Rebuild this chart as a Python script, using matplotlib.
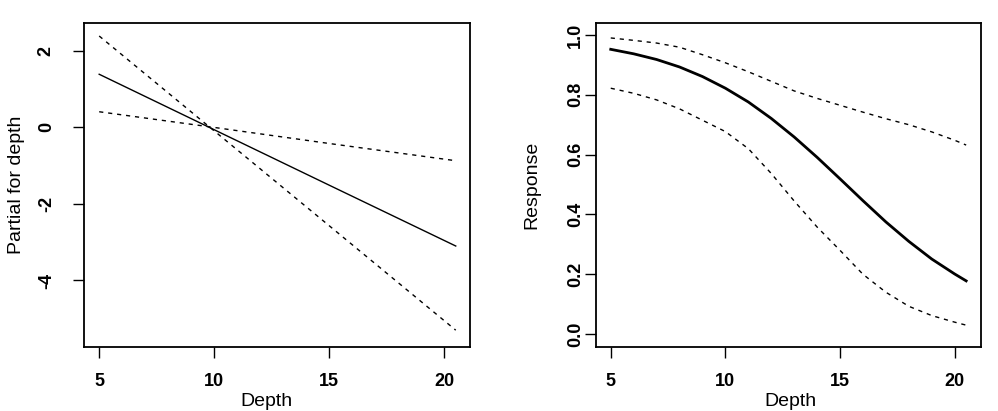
import matplotlib
matplotlib.use("Agg")
import matplotlib.pyplot as plt

plt.rcParams['font.family'] = ['Liberation Sans', 'DejaVu Sans']

# left panel: partial effect of depth (linear term) with +/- 2 se lines
depth_lin = [5, 10, 15, 20.5]
partial = [1.39, -0.06, -1.51, -3.10]
partial_steep = [2.39, -0.09, -2.57, -5.30]
partial_flat = [0.41, 0.00, -0.42, -0.87]

# right panel: fitted response on probability scale with band
depth = [5, 6, 7, 8, 9, 10, 11, 12, 13, 14, 15, 16, 17, 18, 19, 20, 20.5]
response = [0.952, 0.937, 0.918, 0.893, 0.861, 0.822, 0.776, 0.721, 0.659,
            0.591, 0.519, 0.446, 0.375, 0.310, 0.251, 0.201, 0.178]
resp_upper = [0.990, 0.982, 0.973, 0.959, 0.934, 0.907, 0.877, 0.845, 0.813,
              0.788, 0.765, 0.742, 0.720, 0.700, 0.676, 0.648, 0.632]
resp_lower = [0.822, 0.805, 0.783, 0.753, 0.715, 0.677, 0.620, 0.537, 0.445,
              0.358, 0.280, 0.200, 0.140, 0.093, 0.062, 0.040, 0.030]

x_ticks = [5, 10, 15, 20]
left_yticks = [2, 0, -2, -4]
right_yticks = [0.0, 0.2, 0.4, 0.6, 0.8, 1.0]

fig = plt.figure(figsize=(9.98, 4.11), dpi=100)
ax1 = fig.add_axes([84 / 998, 1 - 347 / 411, 386 / 998, 324 / 411])
ax2 = fig.add_axes([596.3 / 998, 1 - 347 / 411, 385 / 998, 324 / 411])

dash = (0, (3, 3.5))

ax1.plot(depth_lin, partial, color='black', lw=1.0)
ax1.plot(depth_lin, partial_steep, color='black', lw=1.0, linestyle=dash)
ax1.plot(depth_lin, partial_flat, color='black', lw=1.0, linestyle=dash)
ax1.set_xlim(4.34, 21.12)
ax1.set_ylim(-5.74, 2.73)
ax1.set_yticks(left_yticks)
ax1.set_yticklabels([str(v) for v in left_yticks], rotation=90, va='center')
ax1.set_xlabel('Depth', fontsize=14)
ax1.set_ylabel('Partial for depth', fontsize=14)
ax1.xaxis.set_label_coords(0.473, -0.142)
ax1.yaxis.set_label_coords(-0.153, 0.5)
ax1.tick_params(axis='y', pad=13)

ax2.plot(depth, response, color='black', lw=2.0)
ax2.plot(depth, resp_upper, color='black', lw=1.0, linestyle=dash)
ax2.plot(depth, resp_lower, color='black', lw=1.0, linestyle=dash)
ax2.set_xlim(4.37, 21.16)
ax2.set_ylim(-0.043, 1.04)
ax2.set_yticks(right_yticks)
ax2.set_yticklabels([f'{v:.1f}' for v in right_yticks], rotation=90, va='center')
ax2.set_xlabel('Depth', fontsize=14)
ax2.set_ylabel('Response', fontsize=14)
ax2.xaxis.set_label_coords(0.503, -0.142)
ax2.yaxis.set_label_coords(-0.146, 0.5)
ax2.tick_params(axis='y', pad=1)

for ax in (ax1, ax2):
    ax.set_xticks(x_ticks)
    ax.tick_params(direction='out', length=8, width=1.0, labelsize=13)
    ax.tick_params(axis='x', pad=11)
    for lab in ax.get_xticklabels() + ax.get_yticklabels():
        lab.set_fontweight('bold')
    for sp in ax.spines.values():
        sp.set_linewidth(1.3)

fig.savefig('out.png', dpi=100)
